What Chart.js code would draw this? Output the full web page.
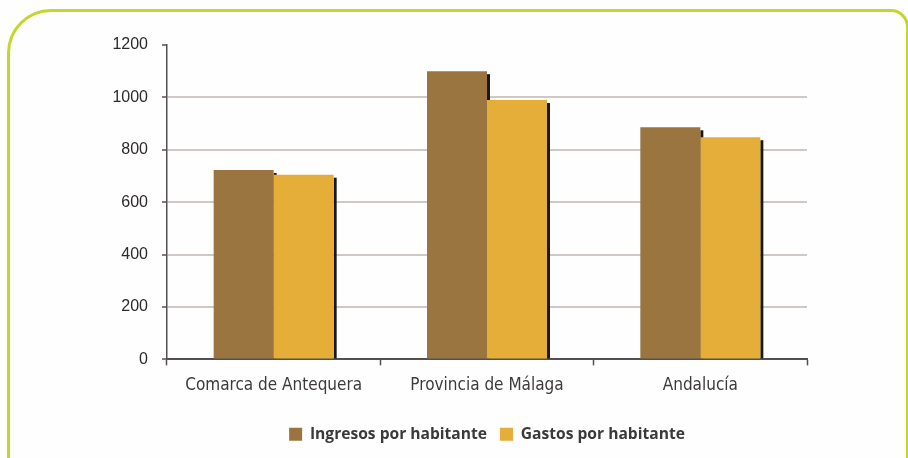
<!DOCTYPE html>
<html>
<head>
<meta charset="utf-8">
<script src="https://cdn.jsdelivr.net/npm/chart.js@4.4.1/dist/chart.umd.min.js"></script>
<style>
  html, body { margin: 0; padding: 0; background: #ffffff; }
  #wrap { position: relative; width: 908px; height: 458px; overflow: hidden; background: #fefefe; }
  #frame {
    position: absolute; left: 7px; top: 9px; width: 896px; height: 480px;
    border: 3px solid #c5d62b; border-radius: 44px 18px 0 0;
  }
  #c { position: absolute; left: 0; top: 0; }
</style>
</head>
<body>
<div id="wrap">
  <div id="frame"></div>
  <canvas id="c" width="908" height="458"></canvas>
</div>
<script>
// Ingresos y gastos por habitante (euros)
const categories = ['Comarca de Antequera', 'Provincia de Málaga', 'Andalucía'];
const ingresos = [723, 1100, 886];
const gastos = [705, 990, 848];
const yTicks = [0, 200, 400, 600, 800, 1000, 1200];

const BROWN = '#9b7540';
const GOLD = '#e4ae38';

// Dark drop shadow on the right side of each bar, painted under all bars
const barShadow = {
  id: 'barShadow',
  beforeDatasetsDraw(chart) {
    const ctx = chart.ctx;
    ctx.save();
    ctx.fillStyle = '#1b1712';
    chart.data.datasets.forEach((ds, i) => {
      chart.getDatasetMeta(i).data.forEach(bar => {
        const p = bar.getProps(['x', 'y', 'base', 'width'], true);
        const right = p.x + p.width / 2;
        ctx.fillRect(right, p.y + 3, 3, p.base - p.y - 3);
      });
    });
    ctx.restore();
  }
};

// Center the legend under the plot area instead of the whole canvas
const legendUnderPlot = {
  id: 'legendUnderPlot',
  afterLayout(chart) {
    if (chart.legend) {
      chart.legend.left = chart.chartArea.left;
      chart.legend.right = chart.chartArea.right;
    }
  }
};

new Chart(document.getElementById('c'), {
  type: 'bar',
  data: {
    labels: categories,
    datasets: [
      { label: 'Ingresos por habitante', data: ingresos, backgroundColor: BROWN },
      { label: 'Gastos por habitante', data: gastos, backgroundColor: GOLD }
    ]
  },
  options: {
    responsive: false,
    animation: false,
    layout: { padding: { left: 0, right: 101, top: 45, bottom: 6 } },
    datasets: { bar: { categoryPercentage: 0.5625, barPercentage: 1.0, borderWidth: 0 } },
    plugins: {
      tooltip: { enabled: false },
      legend: {
        position: 'bottom',
        labels: {
          boxWidth: 13, boxHeight: 13, padding: 13,
          color: '#3a3a3a',
          font: { family: "'Open Sans', sans-serif", size: 15.6, weight: 'bold' }
        }
      }
    },
    scales: {
      x: {
        grid: {
          offset: true, drawOnChartArea: false,
          tickLength: 6, tickColor: '#555050', tickWidth: 1.5
        },
        border: { display: true, color: '#555050', width: 2 },
        ticks: {
          color: '#3f3a3a', padding: 10,
          font: { family: "'DejaVu Sans Condensed', 'Liberation Sans', sans-serif", size: 17 }
        },
        afterFit(scale) { scale.height = 54; }
      },
      y: {
        min: 0, max: 1200,
        afterBuildTicks(scale) { scale.ticks = yTicks.map(v => ({ value: v })); },
        grid: {
          color: ctx => (ctx.tick && (ctx.tick.value === 0 || ctx.tick.value === 1200)) ? 'rgba(0,0,0,0)' : '#cfc8c5',
          lineWidth: 2,
          tickLength: 5, tickColor: '#555050', tickWidth: 1.5
        },
        border: { display: true, color: '#555050', width: 1.5 },
        ticks: {
          color: '#2e2a2a', padding: 14,
          callback: v => String(v),
          font: { family: "'Liberation Sans', Arial, sans-serif", size: 16 }
        },
        afterFit(scale) { scale.width = 167; }
      }
    }
  },
  plugins: [barShadow, legendUnderPlot]
});
</script>
</body>
</html>
